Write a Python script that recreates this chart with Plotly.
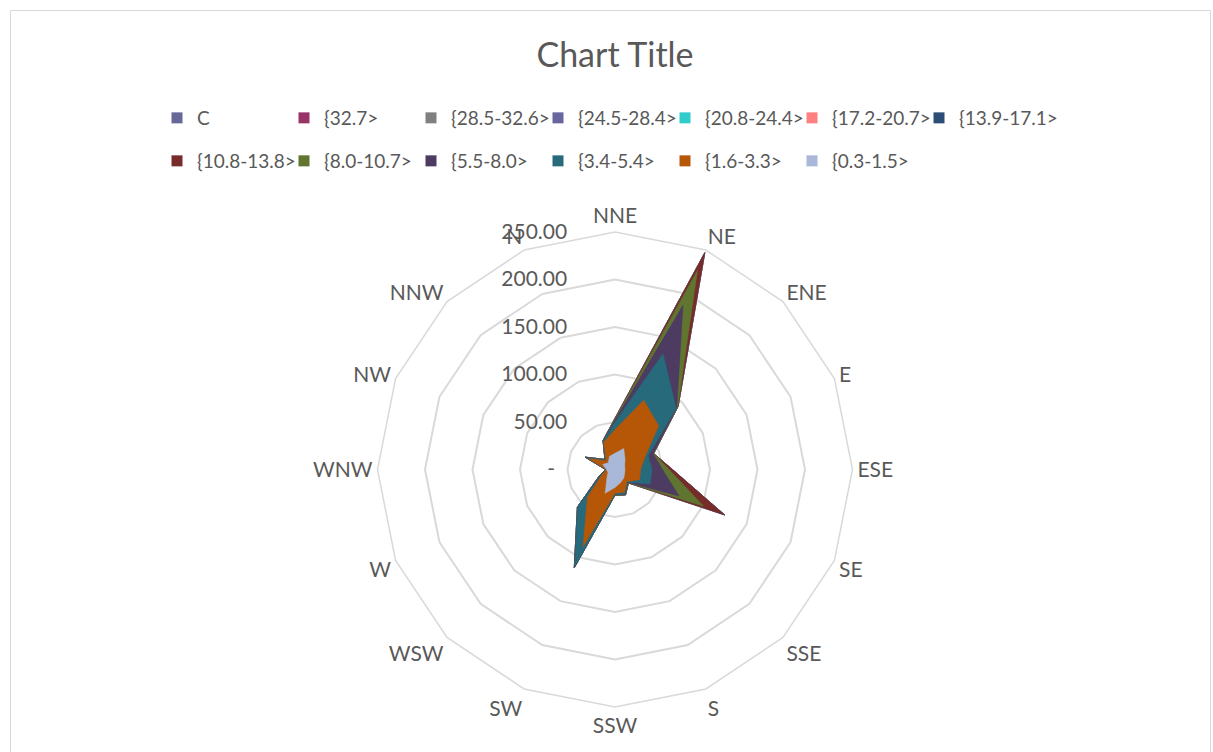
import plotly.graph_objects as go

directions = ["NNE", "NE", "ENE", "E", "ESE", "SE", "SSE", "S",
              "SSW", "SW", "WSW", "W", "WNW", "NW", "NNW", "N"]

series_names = ["C", "{32.7>", "{28.5-32.6>", "{24.5-28.4>", "{20.8-24.4>",
                "{17.2-20.7>", "{13.9-17.1>", "{10.8-13.8>", "{8.0-10.7>",
                "{5.5-8.0>", "{3.4-5.4>", "{1.6-3.3>", "{0.3-1.5>"]

series_colors = ["#676798", "#993366", "#808080", "#67679E", "#33CCCC",
                 "#FF8080", "#2C4D75", "#772C2A", "#5F7530", "#4D3B62",
                 "#276A7C", "#B65708", "#A9B8D9"]

# cumulative frequencies (outer series hidden behind {10.8-13.8>)
total_upto_13_8 = [54, 247, 94, 44, 60.5, 125, 20, 29, 27, 112, 56, 18, 10, 34, 15, 33]
upto_10_7 = [53.5, 227, 93.5, 44, 57, 101, 20, 29, 27, 112, 56, 18, 10, 34, 15, 33]
upto_8_0 = [52, 187, 92, 43.5, 50, 73, 19.5, 28.5, 26.7, 111.5, 55.8, 17.5, 9.7, 33.5, 14.7, 32.7]
upto_5_4 = [50, 132, 91, 38, 39, 40, 19, 28, 26.5, 111, 55.5, 17, 9.5, 33, 14.5, 32.5]
upto_3_3 = [42, 79, 65, 34, 27, 28, 18, 26, 25, 88, 41, 15, 9, 30, 13, 31]
upto_1_5 = [17, 24, 15, 11, 10.5, 11, 13, 15, 19, 27, 12, 8, 9, 14, 10, 15]

series_values = [total_upto_13_8] * 8 + [upto_10_7, upto_8_0, upto_5_4, upto_3_3, upto_1_5]

radial_ticks = [0, 50, 100, 150, 200, 250]
radial_ticktext = ["-\u2007", "50.00", "100.00", "150.00", "200.00", "250.00"]

FONT = "Lato, 'Open Sans', sans-serif"
TXT = "#595959"
GRID = "#D9D9D9"

fig = go.Figure()

for name, color, vals in zip(series_names, series_colors, series_values):
    fig.add_trace(go.Scatterpolar(
        r=vals + [vals[0]], theta=directions + [directions[0]],
        mode="lines", fill="toself", fillcolor=color,
        line=dict(color=color, width=0.5),
        name=name, showlegend=False, hoverinfo="skip"))

for i, (name, color) in enumerate(zip(series_names, series_colors)):
    fig.add_trace(go.Scatterpolar(
        r=[None], theta=[directions[0]], mode="markers",
        marker=dict(symbol="square", size=11, color=color),
        name=name, showlegend=True, hoverinfo="skip",
        legend="legend" if i < 7 else "legend2"))

# invisible spacer entries so the last real legend entry is not clipped
for lg in ("legend", "legend2"):
    fig.add_trace(go.Scatterpolar(
        r=[None], theta=[directions[0]], mode="markers",
        marker=dict(symbol="square", size=1, color="rgba(0,0,0,0)"),
        name="\u00a0", showlegend=True, hoverinfo="skip", legend=lg))

W, H = 1213, 752
cx, cy, R = 615, 469.5, 237.5

legend_common = dict(orientation="h", font=dict(family=FONT, size=19, color=TXT),
                     bgcolor="rgba(0,0,0,0)", entrywidth=82, entrywidthmode="pixels",
                     xanchor="left", yanchor="middle", itemclick=False, itemdoubleclick=False)

fig.update_layout(
    width=W, height=H,
    margin=dict(l=0, r=0, t=0, b=0),
    paper_bgcolor="white",
    font=dict(family=FONT, color=TXT),
    title=dict(text="Chart Title", x=cx / W, y=1 - 55 / H, xanchor="center", yanchor="middle",
               font=dict(family=FONT, size=34, color=TXT)),
    legend=dict(**legend_common, x=157 / W, y=1 - 118 / H),
    legend2=dict(**legend_common, x=157 / W, y=1 - 161 / H),
    polar=dict(
        domain=dict(x=[(cx - R) / W, (cx + R) / W], y=[(H - cy - R) / H, (H - cy + R) / H]),
        bgcolor="white",
        gridshape="linear",
        angularaxis=dict(type="category", categoryarray=directions, rotation=90,
                         direction="clockwise", showgrid=False, showline=True,
                         linecolor=GRID, linewidth=1.5, ticks="",
                         tickfont=dict(family=FONT, size=21, color=TXT)),
        radialaxis=dict(range=[0, 250], tickvals=radial_ticks, ticktext=radial_ticktext,
                        angle=90, tickangle=90, side="counterclockwise", showline=False,
                        gridcolor=GRID, gridwidth=1.5, ticks="outside", ticklen=40,
                        tickcolor="rgba(0,0,0,0)",
                        tickfont=dict(family=FONT, size=21, color=TXT)),
    ),
    shapes=[dict(type="rect", xref="paper", yref="paper",
                 x0=10.5 / W, x1=1210.5 / W, y0=-0.2, y1=1 - 10.5 / H,
                 line=dict(color=GRID, width=1), fillcolor="rgba(0,0,0,0)", layer="below")],
)

fig.write_html("out.html", config={"displayModeBar": False},
               post_script="document.body.style.margin='0px';document.body.style.overflow='hidden';")
